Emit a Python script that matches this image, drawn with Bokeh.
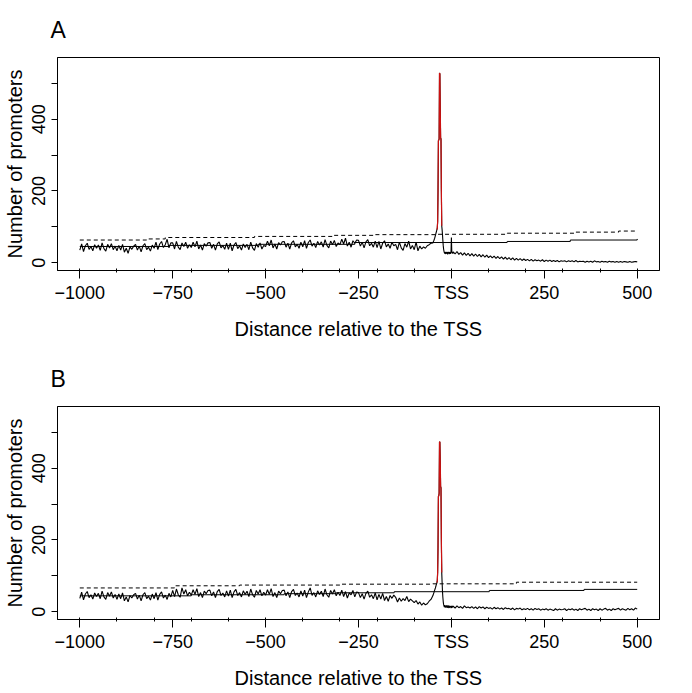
from bokeh.plotting import figure
from bokeh.layouts import column
from bokeh.models import Range1d, FixedTicker
from bokeh.embed import file_html
from bokeh.resources import INLINE
import numpy as np

FONT = "Liberation Sans"

# sampling grid of the profiles (distance relative to the TSS)
pos_far = np.arange(-1000, -50, 5)    # -1000 .. -55
pos_peak = np.arange(-50, 5, 1)       # -50 .. 4
pos_down = np.arange(5, 505, 5)       # 5 .. 500

# panel A : number of promoters per position
counts_a_far = [
    35, 52, 31, 47, 54, 37, 45, 33, 50, 40,
    49, 34, 55, 39, 32, 51, 41, 53, 36, 46,
    33, 48, 35, 51, 29, 40, 26, 44, 37, 46,
    51, 35, 46, 30, 47, 53, 36, 43, 32, 49,
    40, 57, 36, 52, 59, 42, 50, 65, 41, 55,
    55, 38, 59, 43, 36, 55, 45, 57, 40, 50,
    42, 57, 44, 60, 38, 49, 35, 53, 46, 55,
    56, 40, 51, 35, 52, 58, 41, 48, 37, 54,
    37, 54, 33, 49, 56, 39, 47, 35, 52, 42,
    51, 36, 57, 41, 34, 53, 43, 55, 38, 48,
    45, 60, 47, 63, 41, 52, 38, 56, 49, 58,
    59, 43, 54, 38, 55, 61, 44, 51, 40, 57,
    44, 61, 40, 56, 63, 46, 54, 42, 59, 49,
    58, 43, 64, 48, 41, 60, 50, 62, 45, 55,
    50, 65, 52, 68, 46, 57, 43, 61, 54, 63,
    62, 46, 57, 41, 58, 64, 47, 54, 43, 60,
    42, 59, 38, 54, 61, 44, 52, 40, 57, 47,
    51, 36, 57, 41, 34, 53, 43, 60, 38, 48,
    36, 57, 33, 46, 38, 44, 40, 47, 50, 54,
]
counts_a_peak = [
    55, 57, 60, 62, 65, 68, 72, 76, 80, 84,
    88, 92, 96, 115, 200, 340, 342, 345, 529, 526,
    430, 348, 345, 200, 103, 92, 78, 62, 48, 38,
    32, 28, 25, 30, 26, 24, 29, 25, 30, 26,
    23, 29, 25, 30, 27, 24, 29, 25, 27, 31,
    70, 32, 26, 30, 25,
]
counts_a_down = [
    30, 24, 31, 23, 28, 21, 27, 20, 26, 19,
    25, 18, 24, 17, 23, 16, 22, 15, 21, 14,
    19, 13, 18, 12, 17, 11, 16, 10, 15, 9,
    14, 8, 13, 7, 12, 7, 11, 6, 10, 6,
    9, 5, 9, 4, 8, 5, 7, 4, 8, 3,
    7, 4, 7, 3, 6, 3, 6, 2, 5, 4,
    5, 2, 5, 3, 5, 2, 6, 2, 4, 3,
    4, 1, 4, 2, 4, 1, 5, 2, 3, 1,
    4, 2, 3, 1, 4, 2, 3, 1, 3, 1,
    3, 1, 3, 2, 1, 3, 1, 2, 3, 2,
]

# panel B
counts_b_far = [
    37, 54, 33, 49, 56, 39, 47, 35, 52, 42,
    51, 36, 57, 41, 34, 53, 43, 55, 38, 48,
    34, 49, 36, 52, 30, 41, 27, 45, 38, 47,
    51, 35, 46, 30, 47, 53, 36, 43, 32, 49,
    36, 53, 32, 48, 55, 38, 46, 34, 51, 41,
    59, 42, 63, 47, 40, 66, 49, 61, 44, 54,
    46, 61, 48, 64, 42, 53, 39, 57, 50, 59,
    60, 44, 55, 39, 56, 62, 45, 52, 41, 58,
    43, 60, 39, 55, 62, 45, 53, 41, 58, 48,
    57, 42, 63, 47, 40, 59, 49, 61, 44, 54,
    46, 61, 48, 64, 42, 53, 39, 57, 50, 59,
    60, 44, 55, 39, 56, 62, 45, 52, 41, 58,
    43, 60, 39, 55, 66, 45, 53, 41, 58, 48,
    57, 42, 63, 47, 40, 59, 49, 61, 44, 54,
    45, 60, 42, 56, 38, 52, 47, 59, 41, 55,
    53, 39, 50, 35, 51, 57, 40, 47, 36, 52,
    33, 48, 35, 51, 31, 42, 29, 45, 37, 46,
    40, 27, 38, 29, 36, 31, 42, 28, 35, 30,
    25, 31, 21, 27, 18, 24, 19, 22, 29, 34,
]
counts_b_peak = [
    44, 47, 50, 53, 57, 60, 63, 66, 70, 74,
    77, 81, 86, 110, 180, 321, 323, 330, 474, 472,
    420, 349, 345, 200, 109, 82, 57, 40, 28, 20,
    16, 13, 18, 12, 17, 11, 16, 12, 18, 11,
    16, 10, 15, 17, 11, 16, 10, 15, 12, 16,
    13, 10, 16, 12, 15,
]
counts_b_down = [
    15, 10, 16, 11, 14, 9, 16, 11, 13, 10,
    14, 9, 13, 8, 14, 10, 13, 8, 12, 9,
    11, 7, 12, 8, 11, 7, 10, 6, 11, 8,
    9, 6, 10, 5, 9, 7, 10, 5, 8, 6,
    9, 5, 8, 4, 9, 6, 8, 4, 7, 5,
    8, 4, 7, 5, 3, 8, 4, 7, 5, 6,
    8, 3, 7, 5, 8, 4, 7, 3, 8, 5,
    7, 9, 4, 7, 3, 8, 5, 7, 3, 8,
    4, 7, 9, 4, 7, 3, 8, 5, 7, 9,
    4, 8, 6, 4, 9, 5, 8, 4, 10, 7,
]

# background levels (step lines): dashed and solid
dashed_a_x = [-1000, -820, -770, -530, -320, -210, -40, 150, 330, 450, 500]
dashed_a_y = [63, 66, 70, 73, 76, 78, 79, 82, 85, 88, 88]
solid_a_x = [-1000, -760, -520, -260, 150, 320, 500]
solid_a_y = [45, 48, 51, 56, 59, 63, 66]

dashed_b_x = [-1000, -745, -570, -300, -50, 175, 500]
dashed_b_y = [66, 72, 74, 76.5, 77.5, 82, 82]
solid_b_x = [-1000, -700, -450, -310, -154, 102, 357, 500]
solid_b_y = [44, 47, 50, 52.5, 55.5, 59, 62, 62]

# significant window around the peak, drawn in red
RED_FROM, RED_TO = -39, -26

x_ticks = [-1000, -750, -500, -250, 0, 250, 500]
x_tick_labels = ["\u22121000", "\u2212750", "\u2212500", "\u2212250", "TSS", "250", "500"]
x_minor = list(range(-1000, 501, 100))
y_ticks = [0, 100, 200, 300, 400, 500]
y_tick_labels = ["0", "", "200", "", "400", ""]


def panel(letter, far, peak, down, dx, dy, sx, sy, top, bottom, title_gap):
    pos = np.concatenate([pos_far, pos_peak, pos_down])
    cnt = np.array(far + peak + down, dtype=float)

    p = figure(frame_width=602, frame_height=213, output_backend="svg", toolbar_location=None,
               x_range=Range1d(-1060, 560), y_range=Range1d(-22, 572),
               min_border_left=54, min_border_right=20, min_border_top=top,
               min_border_bottom=bottom,
               x_axis_label="Distance relative to the TSS",
               y_axis_label="Number of promoters")
    p.title.text = letter
    p.title.text_font = FONT
    p.title.text_font_size = "23px"
    p.title.text_font_style = "normal"
    p.title.text_color = "black"
    p.title.offset = -7
    if "standoff" in p.title.properties():
        p.title.standoff = title_gap
    p.grid.visible = False
    p.outline_line_color = "black"
    p.outline_line_alpha = 1
    p.outline_line_width = 1

    p.step(dx, dy, mode="after", line_color="black", line_width=1, line_dash="4 3")
    p.step(sx, sy, mode="after", line_color="black", line_width=1)
    p.line(pos, cnt, line_color="black", line_width=1.1)
    red = (pos >= RED_FROM) & (pos <= RED_TO)
    p.line(pos[red], cnt[red], line_color="#cc1111", line_width=1.2)

    for ax in (p.xaxis[0], p.yaxis[0]):
        ax.axis_line_color = "black"
        ax.major_tick_line_color = "black"
        ax.major_tick_in = 0
        ax.major_label_text_font = FONT
        ax.major_label_text_font_size = "18px"
        ax.major_label_text_color = "black"
        ax.axis_label_text_font = FONT
        ax.axis_label_text_font_size = "20px"
        ax.axis_label_text_font_style = "normal"
        ax.axis_label_text_color = "black"

    xa = p.xaxis[0]
    xa.ticker = FixedTicker(ticks=x_ticks, minor_ticks=x_minor)
    xa.major_label_overrides = dict(zip(x_ticks, x_tick_labels))
    xa.major_tick_out = 8
    xa.minor_tick_in = 2
    xa.minor_tick_out = 2
    xa.minor_tick_line_color = "black"
    xa.major_label_standoff = 4
    xa.axis_label_standoff = 12

    ya = p.yaxis[0]
    ya.ticker = FixedTicker(ticks=y_ticks)
    ya.major_label_overrides = dict(zip(y_ticks, y_tick_labels))
    ya.major_tick_out = 6
    ya.minor_tick_line_color = None
    ya.major_label_orientation = "vertical"
    ya.major_label_standoff = 6
    ya.axis_label_standoff = 4
    return p


pa = panel("A", counts_a_far, counts_a_peak, counts_a_down,
           dashed_a_x, dashed_a_y, solid_a_x, solid_a_y, 56, 79, 29)
pb = panel("B", counts_b_far, counts_b_peak, counts_b_down,
           dashed_b_x, dashed_b_y, solid_b_x, solid_b_y, 56, 68, 29)

layout = column(pa, pb)
open("out.html", "w").write(file_html(layout, INLINE))
